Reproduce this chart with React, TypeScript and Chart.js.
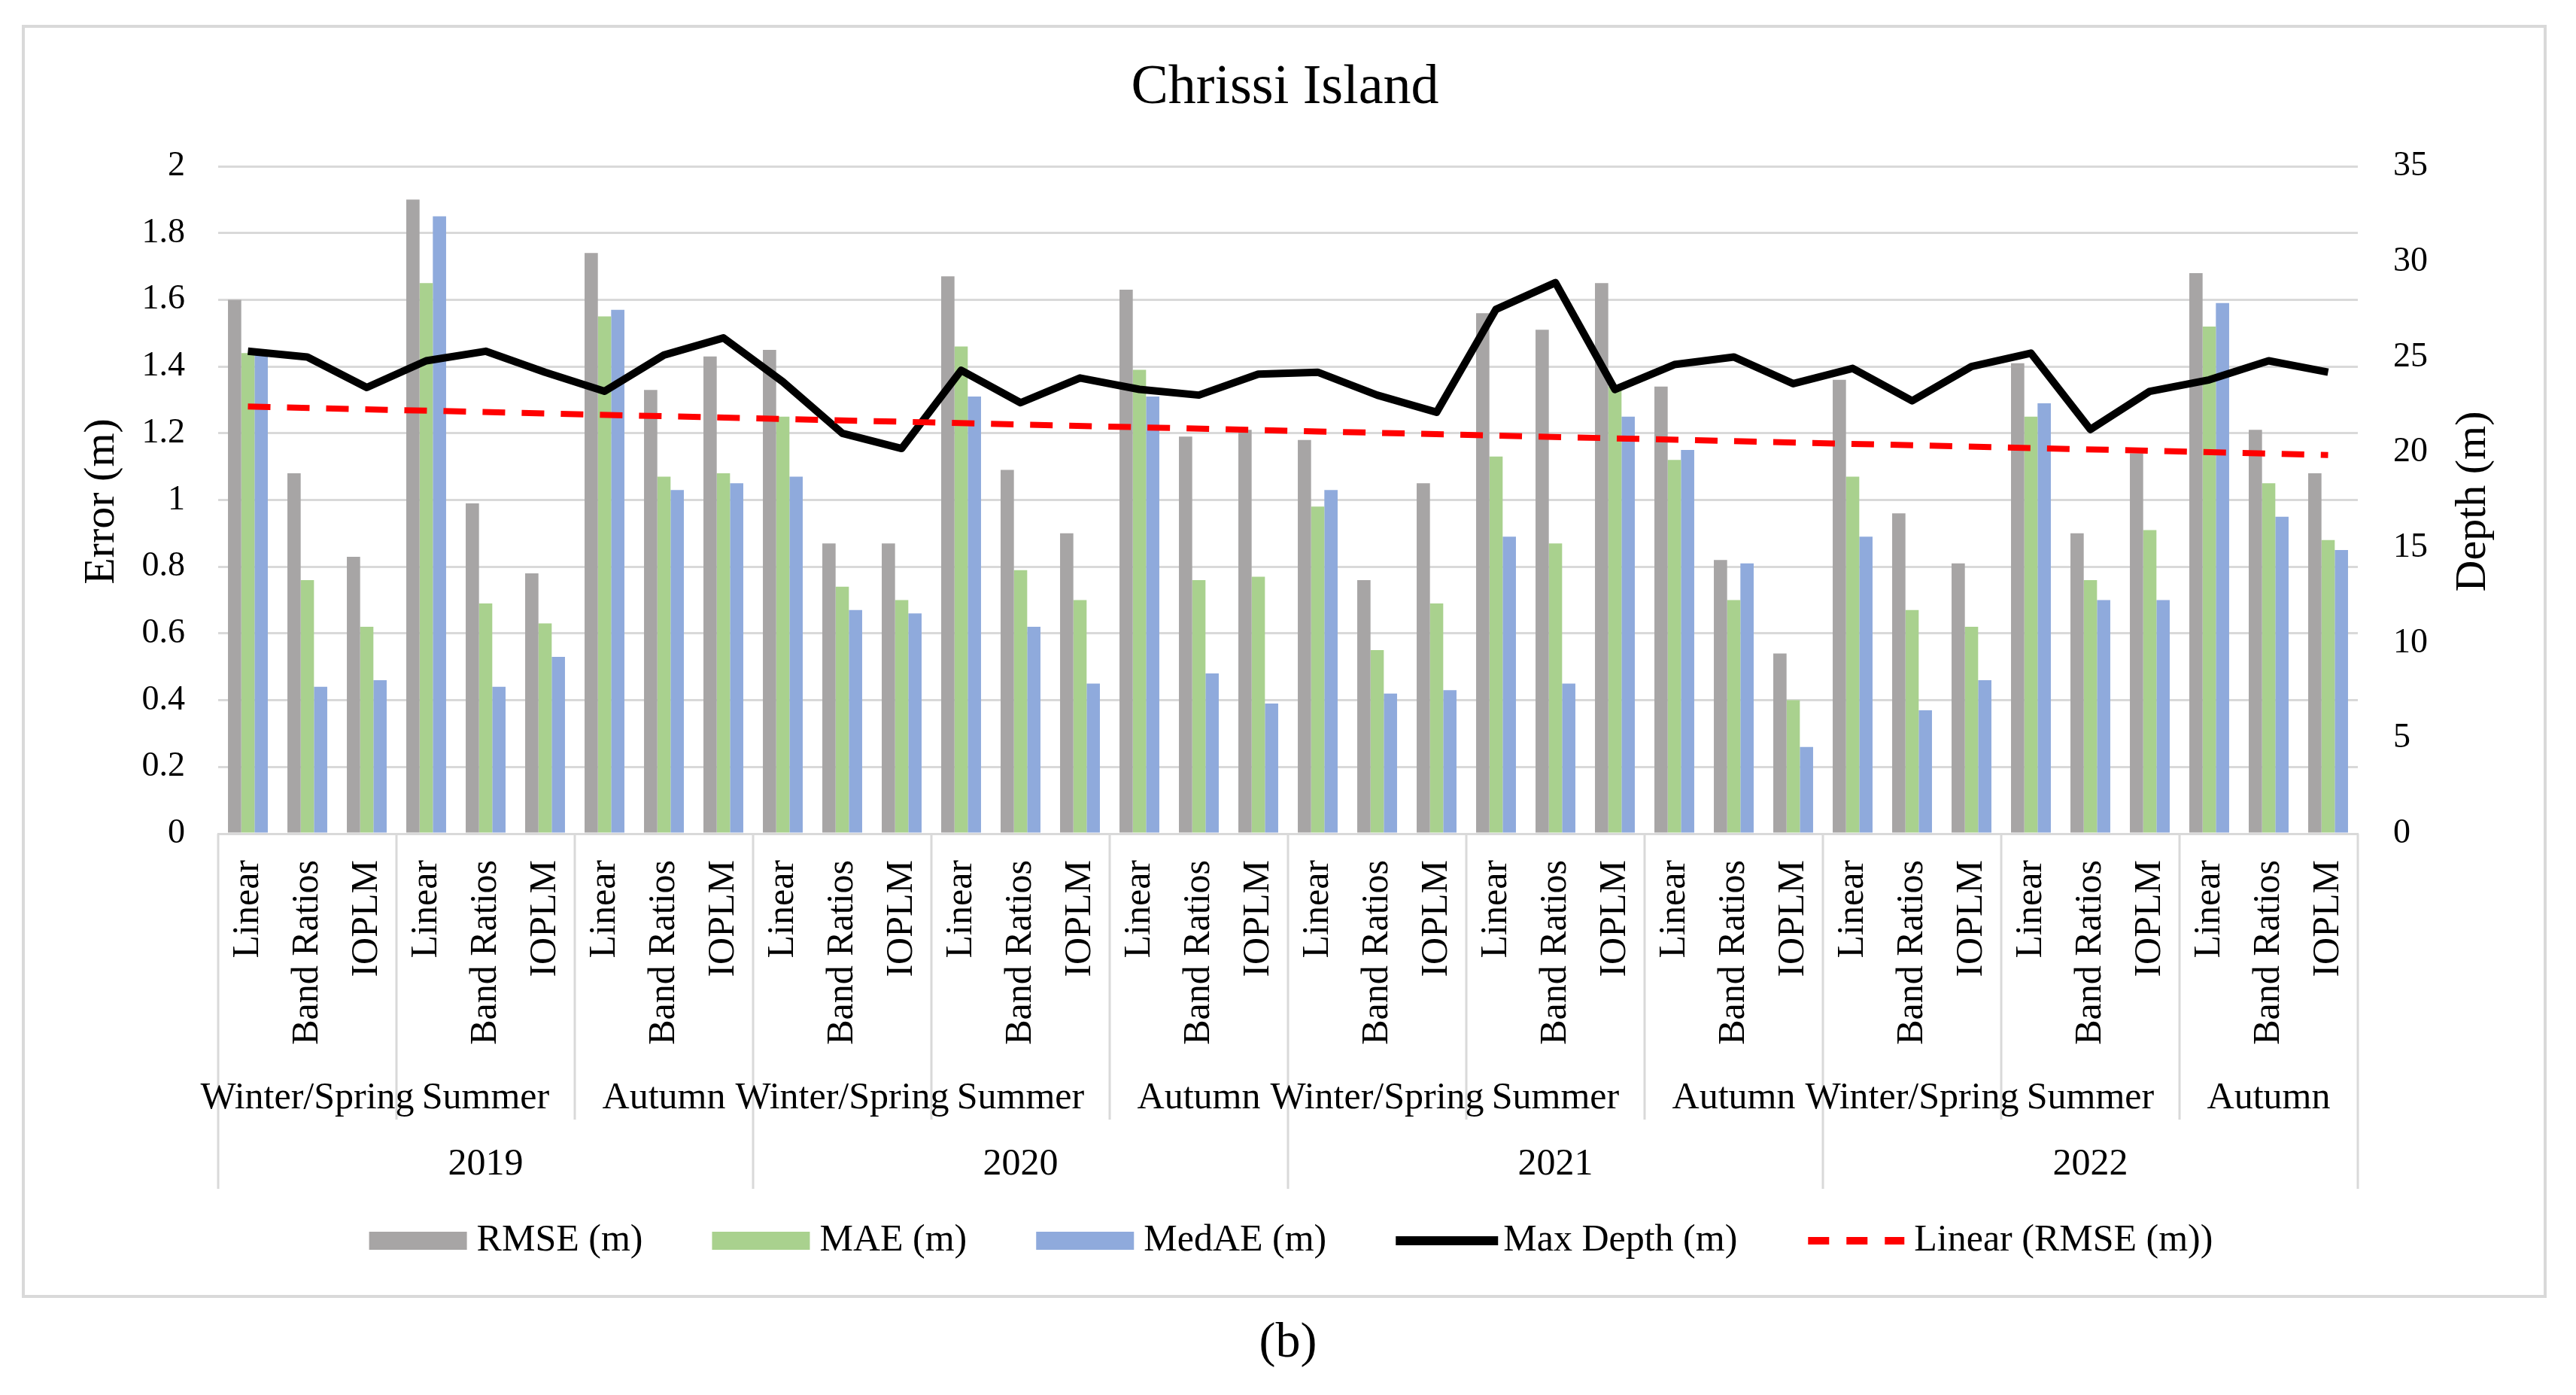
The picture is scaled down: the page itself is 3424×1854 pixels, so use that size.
import { useEffect, useRef } from "react";
import { Chart, registerables } from "chart.js";

Chart.register(...registerables);

const W = 3424;
const H = 1854;
const FONT = "'Liberation Serif', 'Times New Roman', serif";

const TITLE = "Chrissi Island";
const Y_LEFT_TITLE = "Error (m)";
const Y_RIGHT_TITLE = "Depth (m)";
const CAPTION = "(b)";

const METHODS = ["Linear", "Band Ratios", "IOPLM"];
const SEASONS = ["Winter/Spring", "Summer", "Autumn"];
const YEARS = ["2019", "2020", "2021", "2022"];

const RMSE = [
  1.6, 1.08, 0.83, 1.9, 0.99, 0.78, 1.74, 1.33, 1.43,
  1.45, 0.87, 0.87, 1.67, 1.09, 0.9, 1.63, 1.19, 1.21,
  1.18, 0.76, 1.05, 1.56, 1.51, 1.65, 1.34, 0.82, 0.54,
  1.36, 0.96, 0.81, 1.41, 0.9, 1.14, 1.68, 1.21, 1.08,
];
const MAE = [
  1.44, 0.76, 0.62, 1.65, 0.69, 0.63, 1.55, 1.07, 1.08,
  1.25, 0.74, 0.7, 1.46, 0.79, 0.7, 1.39, 0.76, 0.77,
  0.98, 0.55, 0.69, 1.13, 0.87, 1.34, 1.12, 0.7, 0.4,
  1.07, 0.67, 0.62, 1.25, 0.76, 0.91, 1.52, 1.05, 0.88,
];
const MEDAE = [
  1.44, 0.44, 0.46, 1.85, 0.44, 0.53, 1.57, 1.03, 1.05,
  1.07, 0.67, 0.66, 1.31, 0.62, 0.45, 1.31, 0.48, 0.39,
  1.03, 0.42, 0.43, 0.89, 0.45, 1.25, 1.15, 0.81, 0.26,
  0.89, 0.37, 0.46, 1.29, 0.7, 0.7, 1.59, 0.95, 0.85,
];
const MAX_DEPTH = [
  25.3, 25.0, 23.4, 24.8, 25.3, 24.2, 23.2, 25.1, 26.0,
  23.7, 21.0, 20.2, 24.3, 22.6, 23.9, 23.3, 23.0, 24.1,
  24.2, 23.0, 22.1, 27.5, 28.9, 23.3, 24.6, 25.0, 23.6,
  24.4, 22.7, 24.5, 25.2, 21.2, 23.2, 23.8, 24.8, 24.2,
];
// Excel linear trendline of RMSE: value at first and last category
const TREND_START = 1.28;
const TREND_END = 1.135;

const ERROR_MAX = 2;
const ERROR_STEP = 0.2;
const DEPTH_MAX = 35;
const DEPTH_STEP = 5;

const LEGEND = [
  { label: "RMSE (m)", kind: "box", color: "#A7A5A5" },
  { label: "MAE (m)", kind: "box", color: "#A9D18E" },
  { label: "MedAE (m)", kind: "box", color: "#8FAADC" },
  { label: "Max Depth (m)", kind: "line", color: "#000000" },
  { label: "Linear (RMSE (m))", kind: "dash", color: "#FF0000" },
];

const labels = YEARS.flatMap(() => SEASONS.flatMap(() => METHODS));
const trend = RMSE.map((_, i) =>
  i === 0 ? TREND_START : i === RMSE.length - 1 ? TREND_END : null
);

const decor = {
  id: "decor",
  beforeDraw(chart: any) {
    const ctx = chart.ctx;
    ctx.save();
    ctx.fillStyle = "#ffffff";
    ctx.fillRect(0, 0, chart.width, chart.height);
    ctx.restore();
  },
  afterDraw(chart: any) {
    const ctx = chart.ctx as CanvasRenderingContext2D;
    const x = chart.scales.x;
    const area = chart.chartArea;
    ctx.save();
    // outer frame
    ctx.strokeStyle = "#D9D9D9";
    ctx.lineWidth = 4;
    ctx.strokeRect(31, 35, 3352, 1688);

    ctx.fillStyle = "#000";
    ctx.textAlign = "center";
    ctx.textBaseline = "middle";
    // title
    ctx.font = `74px ${FONT}`;
    ctx.fillText(TITLE, (area.left + area.right) / 2 - 4, 118);

    // axis titles
    const midY = (area.top + area.bottom) / 2 + 2;
    ctx.font = `58px ${FONT}`;
    ctx.save();
    ctx.translate(136, midY);
    ctx.rotate(-Math.PI / 2);
    ctx.fillText(Y_LEFT_TITLE, 0, 0);
    ctx.restore();
    ctx.save();
    ctx.translate(3288, midY);
    ctx.rotate(-Math.PI / 2);
    ctx.fillText(Y_RIGHT_TITLE, 0, 0);
    ctx.restore();

    // hierarchical category separators
    const n = labels.length;
    const perSeason = METHODS.length;
    const perYear = METHODS.length * SEASONS.length;
    ctx.strokeStyle = "#D9D9D9";
    ctx.lineWidth = 3;
    for (let i = 0; i <= n; i += perSeason) {
      const px = Math.round(x.getPixelForValue(i - 0.5));
      const bottom = i % perYear === 0 ? 1580 : 1488;
      ctx.beginPath();
      ctx.moveTo(px, area.bottom);
      ctx.lineTo(px, bottom);
      ctx.stroke();
    }
    // season labels
    ctx.font = `50px ${FONT}`;
    for (let s = 0; s < n / perSeason; s++) {
      const px = x.getPixelForValue(s * perSeason + (perSeason - 1) / 2);
      ctx.fillText(SEASONS[s % SEASONS.length], px, 1460);
    }
    // year labels
    for (let y = 0; y < YEARS.length; y++) {
      const px = x.getPixelForValue(y * perYear + (perYear - 1) / 2);
      ctx.fillText(YEARS[y], px, 1548);
    }

    // legend
    const symW = 130;
    const gap = 13;
    const itemGap = 92;
    ctx.font = `50px ${FONT}`;
    const widths = LEGEND.map((it) => symW + gap + ctx.measureText(it.label).width);
    const total = widths.reduce((a, b) => a + b, 0) + itemGap * (LEGEND.length - 1);
    let lx = 1716 - total / 2;
    const ly = 1649;
    LEGEND.forEach((it, k) => {
      if (it.kind === "box") {
        ctx.fillStyle = it.color;
        ctx.fillRect(lx, ly - 12, symW, 24);
      } else if (it.kind === "line") {
        ctx.strokeStyle = it.color;
        ctx.lineWidth = 12;
        ctx.setLineDash([]);
        ctx.beginPath();
        ctx.moveTo(lx, ly);
        ctx.lineTo(lx + symW + 6, ly);
        ctx.stroke();
      } else {
        ctx.strokeStyle = it.color;
        ctx.lineWidth = 10;
        ctx.setLineDash([28, 23]);
        ctx.beginPath();
        ctx.moveTo(lx + 2, ly);
        ctx.lineTo(lx + symW, ly);
        ctx.stroke();
        ctx.setLineDash([]);
      }
      ctx.fillStyle = "#000";
      ctx.textAlign = "left";
      ctx.fillText(it.label, lx + symW + gap, ly);
      lx += widths[k] + itemGap;
    });

    // caption
    ctx.textAlign = "center";
    ctx.font = `66px ${FONT}`;
    ctx.fillText(CAPTION, 1712, 1786);
    ctx.restore();
  },
};

export default function App() {
  const ref = useRef<HTMLCanvasElement>(null);
  useEffect(() => {
    document.body.style.margin = "0";
    const canvas = ref.current!;
    const barCommon = {
      type: "bar" as const,
      yAxisID: "y",
      borderWidth: 0,
      categoryPercentage: 0.67,
      barPercentage: 1,
      order: 2,
    };
    const chart = new Chart(canvas, {
      type: "bar",
      data: {
        labels,
        datasets: [
          { ...barCommon, label: "RMSE (m)", data: RMSE, backgroundColor: "#A7A5A5" },
          { ...barCommon, label: "MAE (m)", data: MAE, backgroundColor: "#A9D18E" },
          { ...barCommon, label: "MedAE (m)", data: MEDAE, backgroundColor: "#8FAADC" },
          {
            type: "line",
            label: "Max Depth (m)",
            data: MAX_DEPTH,
            yAxisID: "y1",
            borderColor: "#000000",
            borderWidth: 10,
            pointRadius: 0,
            tension: 0,
            borderJoinStyle: "round",
            order: 1,
          } as any,
          {
            type: "line",
            label: "Linear (RMSE (m))",
            data: trend,
            yAxisID: "y",
            spanGaps: true,
            borderColor: "#FF0000",
            borderWidth: 8,
            borderDash: [30, 22],
            pointRadius: 0,
            order: 0,
          } as any,
        ],
      },
      options: {
        animation: false,
        responsive: false,
        maintainAspectRatio: false,
        devicePixelRatio: 1,
        layout: { padding: { left: 31, right: 41, top: 221, bottom: 131 } },
        plugins: {
          legend: { display: false },
          tooltip: { enabled: false },
          title: { display: false },
        },
        scales: {
          x: {
            type: "category",
            offset: true,
            grid: { display: false, drawTicks: false },
            border: { display: true, color: "#D9D9D9", width: 3 },
            ticks: {
              autoSkip: false,
              minRotation: 90,
              maxRotation: 90,
              padding: 35,
              color: "#000",
              font: { family: FONT, size: 50 },
            },
            afterFit: (s: any) => {
              s.height = 615;
            },
          },
          y: {
            position: "left",
            min: 0,
            max: ERROR_MAX,
            ticks: {
              stepSize: ERROR_STEP,
              padding: 44,
              color: "#000",
              font: { family: FONT, size: 46 },
              callback: (v: any) => String(Number(Number(v).toFixed(1))),
            },
            grid: { color: "#D9D9D9", lineWidth: 3, drawTicks: false },
            border: { display: false },
            afterFit: (s: any) => {
              s.width = 259;
            },
          },
          y1: {
            position: "right",
            min: 0,
            max: DEPTH_MAX,
            ticks: {
              stepSize: DEPTH_STEP,
              padding: 47,
              color: "#000",
              font: { family: FONT, size: 46 },
            },
            grid: { display: false, drawOnChartArea: false, drawTicks: false },
            border: { display: false },
            afterFit: (s: any) => {
              s.width = 249;
            },
          },
        },
      },
      plugins: [decor],
    } as any);
    return () => chart.destroy();
  }, []);
  return (
    <div style={{ width: W, height: H, background: "#fff" }}>
      <canvas ref={ref} width={W} height={H} style={{ display: "block", width: W, height: H }} />
    </div>
  );
}
